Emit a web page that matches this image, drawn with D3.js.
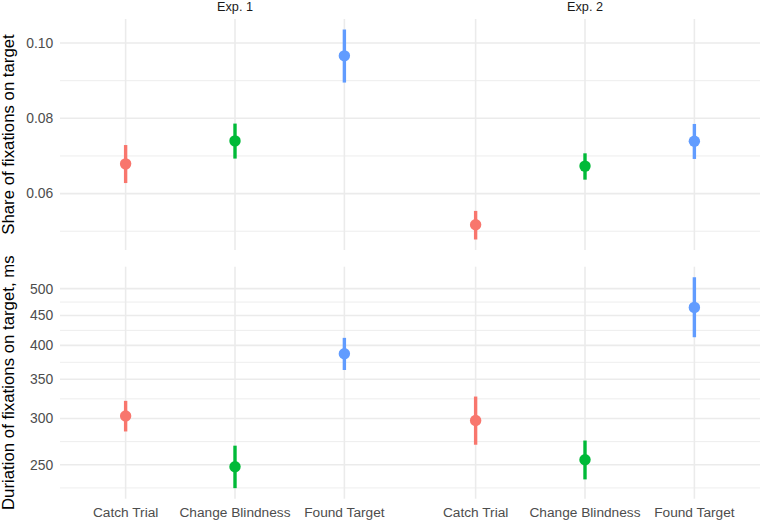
<!DOCTYPE html>
<html>
<head>
<meta charset="utf-8">
<script src="https://cdn.jsdelivr.net/npm/d3@7"></script>
<style>
  html, body { margin: 0; padding: 0; background: #fff; }
  svg { display: block; font-family: "Liberation Sans", Arial, sans-serif; }
</style>
</head>
<body>
<svg id="chart" width="761" height="520"></svg>
<script>
// ---- data ----
const categories = ["Catch Trial", "Change Blindness", "Found Target"];
const experiments = ["Exp. 1", "Exp. 2"];
const colors = ["#F8766D", "#00BA38", "#619CFF"];

const shareMean = [[0.0679, 0.0740, 0.0966], [0.0517, 0.0673, 0.0739]];
const shareLow  = [[0.0628, 0.0693, 0.0895], [0.0478, 0.0637, 0.0692]];
const shareHigh = [[0.0729, 0.0786, 0.1036], [0.0554, 0.0707, 0.0785]];

const durMean = [[303, 248, 387], [297.5, 255, 464.5]];
const durLow  = [[285, 228, 363], [270.5, 236, 413]];
const durHigh = [[321.5, 269.5, 412], [327, 275, 523]];

const shareTicks = [0.06, 0.08, 0.10];
const durTicks = [250, 300, 350, 400, 450, 500];

const titleTop = "Share of fixations on target";
const titleBottom = "Duriation of fixations on target, ms";

// ---- layout ----
const svg = d3.select("#chart");
const panelX = [[60, 410], [410, 760]];
const rowY = [[19, 250], [266.7, 498.7]];
const gridCol = "#EBEBEB";
const tickCol = "#4D4D4D";

function expand(lo, hi, f) { const r = hi - lo; return [lo - r * f, hi + r * f]; }

const shareAll = shareLow.flat().concat(shareHigh.flat());
const yTop = d3.scaleLinear()
  .domain(expand(d3.min(shareAll), d3.max(shareAll), 0.05))
  .range([rowY[0][1], rowY[0][0]]);

const durAll = durLow.flat().concat(durHigh.flat());
const ld = expand(Math.log10(d3.min(durAll)), Math.log10(d3.max(durAll)), 0.05);
const yBot = d3.scaleLog()
  .domain([Math.pow(10, ld[0]), Math.pow(10, ld[1])])
  .range([rowY[1][1], rowY[1][0]]);

const xScales = panelX.map(p => d3.scalePoint().domain(categories).range(p).padding(0.6));

// minor breaks
function minorLinear(t) {
  const bd = t[1] - t[0];
  const b = [t[0] - bd].concat(t, [t[t.length - 1] + bd]);
  const m = [];
  for (let i = 0; i < b.length - 1; i++) m.push((b[i] + b[i + 1]) / 2);
  return m;
}
function minorLog(t) {
  const lt = t.map(Math.log10);
  const mm = minorLinear(lt);
  return mm.map(v => Math.pow(10, v));
}

const rows = [
  { y: yTop, ticks: shareTicks, minor: minorLinear(shareTicks), fmt: d3.format(".2f"),
    mean: shareMean, low: shareLow, high: shareHigh, title: titleTop },
  { y: yBot, ticks: durTicks, minor: minorLog(durTicks), fmt: d3.format("d"),
    mean: durMean, low: durLow, high: durHigh, title: titleBottom }
];

rows.forEach((row, ri) => {
  const [y0, y1] = rowY[ri];
  const g = svg.append("g");
  const inRange = v => { const p = row.y(v); return p >= y0 - 0.01 && p <= y1 + 0.01; };

  panelX.forEach((px, pi) => {
    const x = xScales[pi];
    // minor horizontal grid
    g.selectAll(null).data(row.minor.filter(inRange)).enter().append("line")
      .attr("x1", px[0]).attr("x2", px[1])
      .attr("y1", d => row.y(d)).attr("y2", d => row.y(d))
      .attr("stroke", gridCol).attr("stroke-width", 0.9);
    // major horizontal grid
    g.selectAll(null).data(row.ticks.filter(inRange)).enter().append("line")
      .attr("x1", px[0]).attr("x2", px[1])
      .attr("y1", d => row.y(d)).attr("y2", d => row.y(d))
      .attr("stroke", gridCol).attr("stroke-width", 1.6);
    // vertical grid
    g.selectAll(null).data(categories).enter().append("line")
      .attr("x1", d => x(d)).attr("x2", d => x(d))
      .attr("y1", y0).attr("y2", y1)
      .attr("stroke", gridCol).attr("stroke-width", 1.6);

    // error bars
    g.selectAll(null).data(categories).enter().append("line")
      .attr("x1", d => x(d)).attr("x2", d => x(d))
      .attr("y1", (d, i) => row.y(row.low[pi][i]))
      .attr("y2", (d, i) => row.y(row.high[pi][i]))
      .attr("stroke", (d, i) => colors[i]).attr("stroke-width", 3.4);
    // points
    g.selectAll(null).data(categories).enter().append("circle")
      .attr("cx", d => x(d))
      .attr("cy", (d, i) => row.y(row.mean[pi][i]))
      .attr("r", 5.7)
      .attr("fill", (d, i) => colors[i]);

    // x tick labels on bottom row
    if (ri === 1) {
      g.selectAll(null).data(categories).enter().append("text")
        .attr("x", d => x(d)).attr("y", 516.5)
        .attr("text-anchor", "middle")
        .attr("font-size", "13.7px").attr("fill", tickCol)
        .text(d => d);
    }
    // strip titles on top row
    if (ri === 0) {
      g.append("text")
        .attr("x", (px[0] + px[1]) / 2).attr("y", 10.5)
        .attr("text-anchor", "middle")
        .attr("font-size", "12.7px").attr("fill", "#1A1A1A")
        .text(experiments[pi]);
    }
  });

  // y tick labels
  g.selectAll(null).data(row.ticks.filter(inRange)).enter().append("text")
    .attr("x", 53.3).attr("y", d => row.y(d))
    .attr("dy", "0.35em")
    .attr("text-anchor", "end")
    .attr("font-size", "13.9px").attr("fill", tickCol)
    .text(d => row.fmt(d));

  // y title
  g.append("text")
    .attr("transform", `translate(14,${(y0 + y1) / 2}) rotate(-90)`)
    .attr("text-anchor", "middle")
    .attr("font-size", "16.8px").attr("fill", "#000")
    .text(row.title);
});
</script>
</body>
</html>
